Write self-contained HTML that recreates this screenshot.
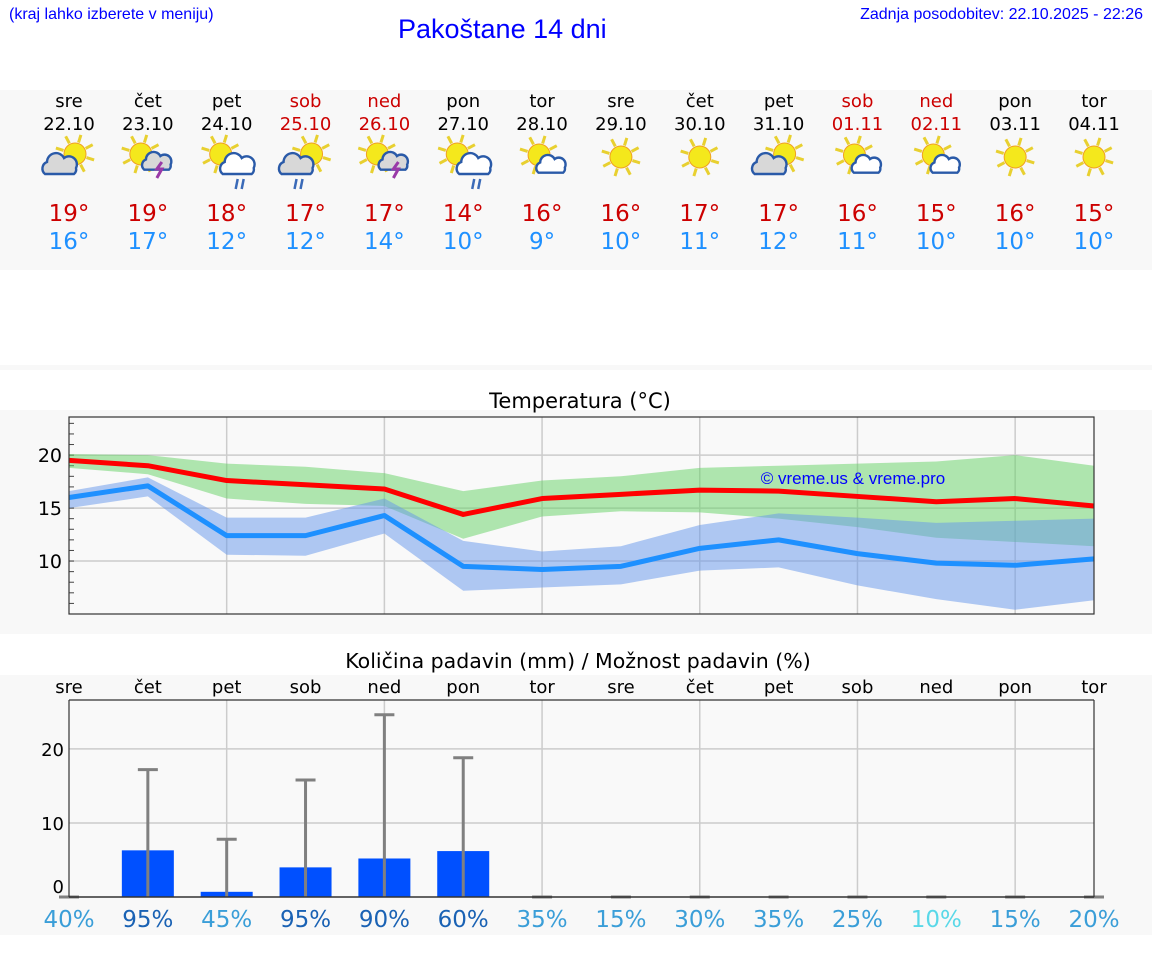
<!DOCTYPE html>
<html><head><meta charset="utf-8">
<style>
body{margin:0;width:1152px;height:975px;background:#fff;overflow:hidden;position:relative;font-family:"DejaVu Sans",sans-serif}
.hdr{position:absolute;color:#0000ff;font-family:"Liberation Sans",sans-serif}
</style></head><body>
<div class="hdr" style="left:9px;top:6px;font-size:16px">(kraj lahko izberete v meniju)</div>
<div class="hdr" style="left:398px;top:14px;font-size:27px">Pakoštane 14 dni</div>
<div class="hdr" style="right:9px;top:6px;font-size:16px">Zadnja posodobitev: 22.10.2025 - 22:26</div>
<svg id="svg" width="1152" height="975" style="position:absolute;left:0;top:0"></svg>
<script>
const days=["sre","čet","pet","sob","ned","pon","tor","sre","čet","pet","sob","ned","pon","tor"];
const dates=["22.10","23.10","24.10","25.10","26.10","27.10","28.10","29.10","30.10","31.10","01.11","02.11","03.11","04.11"];
const weekend=[0,0,0,1,1,0,0,0,0,0,1,1,0,0];
const icons=["pc","ts","rn","pcr","ts","rn","pcl","sun","sun","pc","pcl","pcl","sun","sun"];
const hiT=[19,19,18,17,17,14,16,16,17,17,16,15,16,15];
const loT=[16,17,12,12,14,10,9,10,11,12,11,10,10,10];
const maxLine=[19.5,19.0,17.6,17.2,16.8,14.4,15.9,16.3,16.7,16.6,16.1,15.6,15.9,15.2];
const maxUp=[20.1,20.0,19.2,18.9,18.3,16.6,17.6,18.0,18.8,19.0,19.2,19.4,20.0,19.0];
const maxLo=[18.8,18.2,15.9,15.4,15.2,12.1,14.2,14.7,14.6,14.0,13.2,12.2,11.8,11.4];
const minLine=[16.0,17.1,12.4,12.4,14.3,9.5,9.2,9.5,11.2,12.0,10.7,9.8,9.6,10.2];
const minUp=[16.6,17.9,14.1,14.1,15.9,11.9,10.9,11.4,13.4,14.5,14.1,13.6,13.8,14.0];
const minLo=[15.0,16.1,10.6,10.5,12.6,7.2,7.5,7.8,9.1,9.4,7.7,6.4,5.4,6.3];
const tempTicks=[10,15,20];
const precip=[0,6.3,0.7,4.0,5.2,6.2,0,0,0,0,0,0,0,0];
const precipMax=[0,17.2,7.8,15.8,24.6,18.8,0,0,0,0,0,0,0,0];
const chance=[40,95,45,95,90,60,35,15,30,35,25,10,15,20];
const precipTicks=[0,10,20];

const S=document.getElementById('svg');const NS='http://www.w3.org/2000/svg';
function el(t,a,p){const e=document.createElementNS(NS,t);for(const k in a)e.setAttribute(k,a[k]);(p||S).appendChild(e);return e;}
function tx(x,y,s,a,p){const e=el('text',Object.assign({x:x,y:y,'text-anchor':'middle','font-family':'DejaVu Sans, sans-serif'},a),p);e.textContent=s;return e;}
const X0=69,X1=1094;
const xs=i=>X0+i*(X1-X0)/13;

let b=el('rect',{x:0,y:90,width:1152,height:180,fill:'#f8f8f8'});
el('rect',{x:0,y:365,width:1152,height:5,fill:'#f8f8f8'});
b=el('rect',{x:0,y:410,width:1152,height:224,fill:'#f8f8f8'});
b=el('rect',{x:0,y:675,width:1152,height:260,fill:'#f8f8f8'});

function icon(g,type,cx){
  const sun=(x,y)=>{for(let k=0;k<8;k++){const a=k*Math.PI/4+0.3;el('line',{x1:x+Math.cos(a)*12,y1:y+Math.sin(a)*12,x2:x+Math.cos(a)*20,y2:y+Math.sin(a)*20,stroke:'#e8d030','stroke-width':3},g);}el('circle',{cx:x,cy:y,r:11,fill:'#f4e81c',stroke:'#f0a020','stroke-width':1},g);};
  const cloud=(x,y,fill,s)=>{s=s||1;el('path',{d:`M${x-16*s} ${y+9*s} a${7*s} ${7*s} 0 0 1 ${2*s} ${-12*s} a${9*s} ${9*s} 0 0 1 ${17*s} ${-4*s} a${8*s} ${8*s} 0 0 1 ${12*s} ${10*s} a${6*s} ${6*s} 0 0 1 ${-2*s} ${6*s} z`,fill:fill,stroke:'#2a5aa8','stroke-width':2.4},g);};
  const y=157;
  if(type==='sun'){sun(cx,y);}
  else if(type==='pc'||type==='pcr'){sun(cx+6,y-3);cloud(cx-8,y+8,'#d8d8d8');if(type==='pcr'){el('path',{d:`M${cx-9} ${y+22}l-2 10M${cx-3} ${y+22}l-2 10`,stroke:'#3a6ab8','stroke-width':2.5},g);}}
  else if(type==='ts'){sun(cx-7,y-3);cloud(cx+10,y+5,'#d8d8d8',0.85);el('path',{d:`M${cx+14} ${y+5}l-5 7h5l-5 9`,stroke:'#9a3aa8','stroke-width':3,fill:'none'},g);}
  else if(type==='rn'){sun(cx-6,y-3);cloud(cx+12,y+8,'#fff');el('path',{d:`M${cx+11} ${y+22}l-2 10M${cx+17} ${y+22}l-2 10`,stroke:'#3a6ab8','stroke-width':2.5},g);}
  else if(type==='pcl'){sun(cx-3,y-2);cloud(cx+10,y+8,'#fff',0.85);}
}
for(let i=0;i<14;i++){
  const g=el('g',{});
  const c=weekend[i]?'#cc0000':'#000';const x=xs(i);
  tx(x,107,days[i],{'font-size':18,fill:c},g);
  tx(x,130,dates[i],{'font-size':18,fill:c},g);
  icon(g,icons[i],x);
  tx(x,221,hiT[i]+'°',{'font-size':23,fill:'#cc0000'},g);
  tx(x,249,loT[i]+'°',{'font-size':23,fill:'#1e90ff'},g);
}

const TY0=417,TY1=614,TMIN=5,TMAX=23.6;
const ty=v=>TY1-(v-TMIN)/(TMAX-TMIN)*(TY1-TY0);
let t=tx(580,408,'Temperatura (°C)',{'font-size':21,fill:'#000'});
el('rect',{x:X0,y:TY0,width:X1-X0,height:TY1-TY0,fill:'#f9f9f9'});
for(let i=2;i<13;i+=2)el('line',{x1:xs(i),y1:TY0,x2:xs(i),y2:TY1,stroke:'#ccc','stroke-width':1.5});
tempTicks.forEach(v=>{el('line',{x1:X0,y1:ty(v),x2:X1,y2:ty(v),stroke:'#ccc','stroke-width':1.5});const l=tx(62,ty(v)+7,String(v),{'font-size':19,'text-anchor':'end'});});
for(let v=6;v<=23;v++)el('line',{x1:X0,y1:ty(v),x2:X0+5,y2:ty(v),stroke:'#444','stroke-width':1});
function band(up,lo,fill,name){let d='M'+up.map((v,i)=>xs(i)+' '+ty(v)).join('L')+'L'+lo.map((v,i)=>xs(i)+' '+ty(v)).reverse().join('L')+'Z';const p=el('path',{d:d,fill:fill});}
function line(vals,col,name){const p=el('polyline',{points:vals.map((v,i)=>xs(i)+','+ty(v)).join(' '),fill:'none',stroke:col,'stroke-width':5,'stroke-linejoin':'round'});}
band(maxUp,maxLo,'rgba(100,210,100,0.5)','max-temp-range');
band(minUp,minLo,'rgba(100,150,235,0.5)','min-temp-range');
line(maxLine,'#ff0000','max-temp-line');
line(minLine,'#1e90ff','min-temp-line');
el('rect',{x:X0,y:TY0,width:X1-X0,height:TY1-TY0,fill:'none',stroke:'#333','stroke-width':1.2});
t=tx(853,484,'© vreme.us & vreme.pro',{'font-size':17,fill:'#0000ff','font-family':'Liberation Sans, sans-serif'});

const PY0=700,PY1=897,PMAX=26.6;
const py=v=>PY1-v/PMAX*(PY1-PY0);
t=tx(578,668,'Količina padavin (mm) / Možnost padavin (%)',{'font-size':20.5});
el('rect',{x:X0,y:PY0,width:X1-X0,height:PY1-PY0,fill:'#f9f9f9'});
for(let i=2;i<13;i+=2)el('line',{x1:xs(i),y1:PY0,x2:xs(i),y2:PY1,stroke:'#ccc','stroke-width':1.5});
precipTicks.forEach(v=>{if(v>0)el('line',{x1:X0,y1:py(v),x2:X1,y2:py(v),stroke:'#ccc','stroke-width':1.5});const l=tx(64,py(v)+(v?7:-4),String(v),{'font-size':18,'text-anchor':'end'});});
for(let i=0;i<14;i++){
  const x=xs(i);
  const d=tx(x,693,days[i],{'font-size':18});
  if(precip[i]>0){const r=el('rect',{x:x-26,y:py(precip[i]),width:52,height:PY1-py(precip[i]),fill:'#0050ff'});}
  const e=el('path',{d:`M${x} ${PY1}V${py(precipMax[i])}M${x-10} ${py(precipMax[i])}h20`,stroke:'#808080','stroke-width':3});
  const col=chance[i]>=60?'#1a62b4':(chance[i]<=10?'#5ad8e8':'#3a9ed8');
  const c=tx(x,927,chance[i]+'%',{'font-size':23,fill:col});
}
el('line',{x1:X0,y1:PY0,x2:X0,y2:PY1,stroke:'#333','stroke-width':1.2});
el('line',{x1:X1,y1:PY0,x2:X1,y2:PY1,stroke:'#333','stroke-width':1.2});
el('line',{x1:X0,y1:PY0,x2:X1,y2:PY0,stroke:'#333','stroke-width':1.2});
el('line',{x1:X0,y1:PY1,x2:X1,y2:PY1,stroke:'#333','stroke-width':1.5});
</script>
</body></html>
